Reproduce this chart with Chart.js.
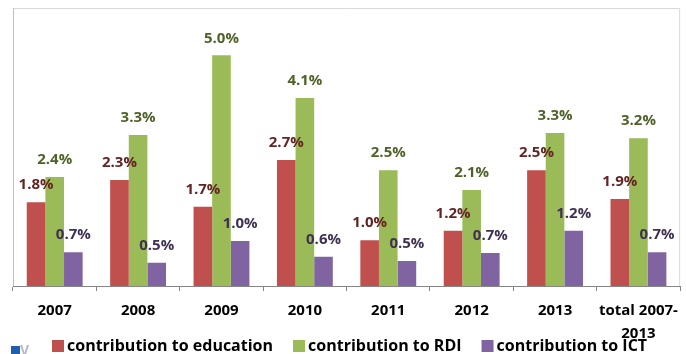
<!DOCTYPE html>
<html>
<head>
<meta charset="utf-8">
<style>
  html, body { margin: 0; padding: 0; background: #fff; }
  canvas { display: block; }
</style>
<script src="https://cdn.jsdelivr.net/npm/chart.js@4"></script>
</head>
<body>
<canvas id="contributionChart" width="686" height="354"></canvas>
<script>
const years = ['2007', '2008', '2009', '2010', '2011', '2012', '2013', ['total 2007-', '2013']];
const education = [1.81, 2.29, 1.71, 2.72, 0.99, 1.19, 2.5, 1.88];
const rdi = [2.35, 3.26, 4.98, 4.06, 2.5, 2.07, 3.3, 3.19];
const ict = [0.73, 0.5, 0.97, 0.63, 0.54, 0.71, 1.19, 0.73];

const FONT = '"Open Sans", sans-serif';

// percentage labels sit just above each bar
const valueLabels = {
    id: 'valueLabels',
    afterDatasetsDraw(chart) {
        const ctx = chart.ctx;
        ctx.save();
        ctx.font = 'bold 15px ' + FONT;
        ctx.textAlign = 'center';
        ctx.textBaseline = 'middle';
        chart.data.datasets.forEach((ds, i) => {
            ctx.fillStyle = ds.labelColor;
            chart.getDatasetMeta(i).data.forEach((bar, j) => {
                ctx.fillText(ds.data[j].toFixed(1) + '%', bar.x, bar.y - 17);
            });
        });
        ctx.restore();
    }
};

const plotFrame = {
    id: 'plotFrame',
    beforeDraw(chart) {
        const { ctx, chartArea: a } = chart;
        ctx.save();
        ctx.strokeStyle = '#d9d9d9';
        ctx.beginPath();
        ctx.moveTo(a.left + 0.5, a.top + 0.5);
        ctx.lineTo(a.right - 0.5, a.top + 0.5);
        ctx.lineTo(a.right - 0.5, a.bottom);
        ctx.stroke();
        ctx.strokeStyle = '#bfbfbf';
        ctx.beginPath();
        ctx.moveTo(a.left + 0.5, a.top);
        ctx.lineTo(a.left + 0.5, a.bottom);
        ctx.stroke();
        ctx.restore();
    }
};

// built-in legend leaves too wide a gap after the swatch, so draw it here
const bottomLegend = {
    id: 'bottomLegend',
    afterDraw(chart) {
        const ctx = chart.ctx;
        ctx.save();
        ctx.font = 'bold 16px ' + FONT;
        ctx.textBaseline = 'middle';
        let x = 52;
        chart.data.datasets.forEach(ds => {
            ctx.fillStyle = ds.backgroundColor;
            ctx.fillRect(x, 340, 12, 12);
            ctx.fillStyle = '#000';
            ctx.fillText(ds.label, x + 15, 346);
            x += 15 + ctx.measureText(ds.label).width + 20;
        });
        // corner of the logo that is cut off in the source
        ctx.fillStyle = '#1f5fae';
        ctx.fillRect(11, 346, 9, 8);
        ctx.fillStyle = '#b4bbc4';
        ctx.font = 'bold 14px ' + FONT;
        ctx.textBaseline = 'alphabetic';
        ctx.fillText('V', 20, 355);
        ctx.restore();
    }
};

new Chart(document.getElementById('contributionChart').getContext('2d'), {
    type: 'bar',
    data: {
        labels: years,
        datasets: [
            { label: 'contribution to education', data: education, backgroundColor: '#c0504d', labelColor: '#632523' },
            { label: 'contribution to RDI', data: rdi, backgroundColor: '#9bbb59', labelColor: '#4f6228' },
            { label: 'contribution to ICT', data: ict, backgroundColor: '#8064a2', labelColor: '#403152' }
        ]
    },
    options: {
        responsive: false,
        animation: false,
        layout: { padding: { left: 13, right: 1, top: 8, bottom: 0 } },
        datasets: { bar: { categoryPercentage: 0.67, barPercentage: 1 } },
        plugins: {
            title: { display: false },
            tooltip: { enabled: false },
            legend: { display: false }
        },
        scales: {
            x: {
                grid: { display: true, drawOnChartArea: false, offset: true, color: '#868686', tickLength: 5 },
                border: { color: '#868686' },
                ticks: {
                    color: '#000',
                    padding: 8,
                    maxRotation: 0,
                    autoSkip: false,
                    font: { family: FONT, size: 15, weight: 'bold', lineHeight: 1.53 }
                },
                afterFit(scale) { scale.height = 68; }
            },
            y: { display: false, min: 0, max: 6 }
        }
    },
    plugins: [plotFrame, valueLabels, bottomLegend]
});
</script>
</body>
</html>
